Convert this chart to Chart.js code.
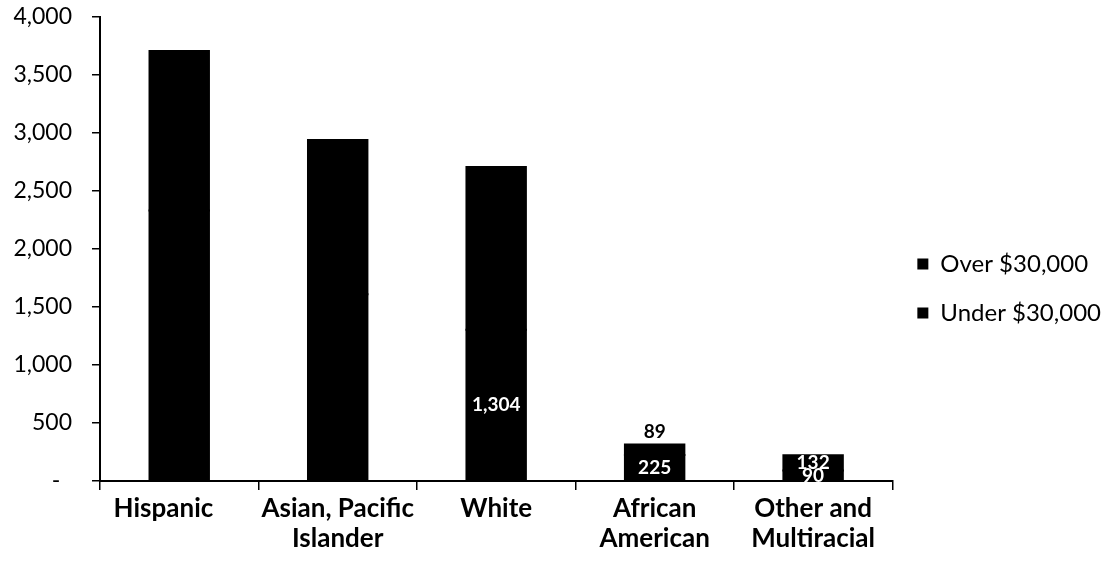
<!DOCTYPE html>
<html>
<head>
<meta charset="utf-8">
<script src="https://cdn.jsdelivr.net/npm/chart.js@4/dist/chart.umd.min.js"></script>
<style>
  html, body { margin: 0; padding: 0; background: #fff; }
  #wrap { width: 1114px; height: 563px; }
</style>
</head>
<body>
<div id="wrap"><canvas id="chart"></canvas></div>
<script>
// categories (multi-line labels) and the two stacked series
const categories = [['Hispanic     '], ['Asian, Pacific', 'Islander'], ['White'], ['African', 'American'], ['Other and', 'Multiracial']]
const under30k = [2331, 1610, 1304, 225, 90]
const over30k = [1376, 1330, 1403, 89, 132]
// which value labels can actually be seen on the scan
const underLabelShown = [false, false, true, true, true]
const overLabelShown = [false, false, false, true, true]
const yTicks = [0, 500, 1000, 1500, 2000, 2500, 3000, 3500, 4000]

const font = 'Lato, "Open Sans", sans-serif'
const ctx = document.querySelector('#chart')

// draws the data labels that survive in the scan
const valueLabels = {
  id: 'valueLabels',
  afterDatasetsDraw(chart) {
    const c = chart.ctx
    c.save()
    c.font = 'bold 19px ' + font
    c.textAlign = 'center'
    c.textBaseline = 'middle'
    chart.data.datasets.forEach((ds, i) => {
      const meta = chart.getDatasetMeta(i)
      meta.data.forEach((bar, j) => {
        if (!ds.shown[j]) return
        const txt = ds.data[j].toLocaleString('en-US')
        const h = Math.abs(bar.base - bar.y)
        // the thin top segment gets its label above the bar
        if (ds.top && h < 12) {
          c.fillStyle = '#000'
          c.fillText(txt, bar.x, bar.y - 13)
        } else {
          c.fillStyle = '#fff'
          c.fillText(txt, bar.x, (bar.y + bar.base) / 2)
        }
      })
    })
    c.restore()
  }
}

new Chart(ctx, {
  type: 'bar',
  data: {
    labels: categories,
    datasets: [
      { label: 'Under $30,000', data: under30k, shown: underLabelShown, backgroundColor: '#000', borderWidth: 0, inflateAmount: 1 },
      { label: 'Over $30,000', data: over30k, shown: overLabelShown, top: true, backgroundColor: '#000', borderWidth: 0, inflateAmount: 1 }
    ]
  },
  options: {
    responsive: true,
    maintainAspectRatio: false,
    animation: false,
    layout: { padding: { top: 0, right: 3, left: 0, bottom: 0 } },
    datasets: { bar: { barPercentage: 0.375, categoryPercentage: 1 } },
    plugins: {
      tooltip: { enabled: false },
      legend: {
        position: 'right',
        reverse: true,
        title: { display: true, text: ' ', font: { size: 10 }, padding: { top: 2, bottom: 0 } },
        labels: {
          color: '#000',
          font: { family: font, size: 24 },
          boxWidth: 11,
          boxHeight: 11,
          padding: 25
        }
      }
    },
    scales: {
      x: {
        stacked: true,
        offset: true,
        border: { display: true, color: '#000', width: 2 },
        grid: { display: true, offset: true, drawOnChartArea: false, drawTicks: true, tickLength: 9, color: '#000', lineWidth: 1.5 },
        ticks: { color: '#000', font: { family: font, size: 26, weight: 'bold', lineHeight: 1.15 }, maxRotation: 0, autoSkip: false, padding: 4 },
        afterFit(scale) { scale.height = 82 }
      },
      y: {
        stacked: true,
        min: 0,
        max: 4000,
        afterBuildTicks(scale) { scale.ticks = yTicks.map(v => ({ value: v })) },
        border: { display: true, color: '#000', width: 2 },
        grid: { display: true, drawOnChartArea: false, drawTicks: true, tickLength: 8, color: '#000', lineWidth: 1.5 },
        ticks: {
          color: '#000',
          font: { family: font, size: 23 },
          padding: 20,
          callback: v => v === 0 ? '-  ' : v.toLocaleString('en-US')
        },
        afterFit(scale) {
          scale.width = 100
          scale.paddingTop = 17
        }
      }
    }
  },
  plugins: [valueLabels]
})
</script>
</body>
</html>
